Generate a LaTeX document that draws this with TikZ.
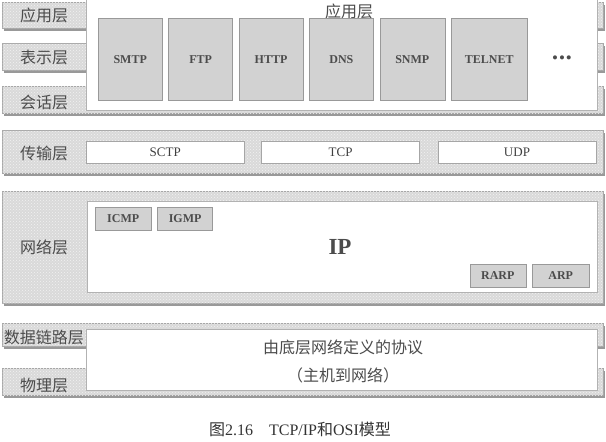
\documentclass[tikz,border=0pt]{standalone}
\usepackage{fontspec}
\setmainfont{Liberation Serif}
\newfontfamily\cjk{Noto Sans CJK SC}
\usetikzlibrary{
        patterns,
        positioning
    }
\tikzset{layer bar/.style={draw=gray!70,fill=gray!30,postaction={pattern=crosshatch dots,pattern color=gray!10}}}
\tikzset{bar shadow/.style={fill=gray!80}}
\tikzset{layer label/.style={font=\cjk\fontsize{16}{18}\selectfont,text=black!70}}
\tikzset{suite box/.style={draw=gray!60,fill=white,inner sep=0pt,anchor=north west}}
\tikzset{proto box/.style={draw=gray!80,fill=gray!35,inner sep=0pt,text=black!70,font=\bfseries\fontsize{12}{12}\selectfont}}
\tikzset{trans box/.style={draw=gray!70,fill=white,inner sep=0pt,minimum width=158pt,minimum height=22pt,text=black!75,font=\fontsize{13}{14}\selectfont}}

\begin{document}
\begin{tikzpicture}[x=1pt,y=-1pt]
    \useasboundingbox (0,0) rectangle (606,442);
    % OSI layers on the left
    \foreach \t/\b/\nm/\ly/\txt in {2/28/app/15/应用层,43/70/pres/57/表示层,86/113/sess/102/会话层,
            130/173/trans/153/传输层,191/303/net/247/网络层,323/346/link/337/数据链路层,368/395/phys/385/物理层}{
        \fill[bar shadow] (4,\t+3) rectangle (605,\b+3);
        \draw[layer bar] (2,\t) rectangle (603,\b);
        \node[layer label] (\nm) at (44,\ly) {\txt};
    }
    % application layer
    \node[suite box,minimum width=511pt,minimum height=111pt] (appbox) at (86,-1) {};
    \node[layer label] (apptitle) at (349,11) {应用层};
    \node[proto box,minimum width=64pt,minimum height=82pt,anchor=north west] (smtp) at (98,18) {SMTP};
    \node[proto box,minimum width=64pt,minimum height=82pt] (ftp) [right=6pt of smtp] {FTP};
    \node[proto box,minimum width=64pt,minimum height=82pt] (http) [right=6pt of ftp] {HTTP};
    \node[proto box,minimum width=64pt,minimum height=82pt] (dns) [right=6pt of http] {DNS};
    \node[proto box,minimum width=65pt,minimum height=82pt] (snmp) [right=6pt of dns] {SNMP};
    \node[proto box,minimum width=76pt,minimum height=82pt] (telnet) [right=6pt of snmp] {TELNET};
    \node[text=black!70,font=\fontsize{17}{17}\selectfont] (dots) at (562,60) {\textbullet\hspace{1pt}\textbullet\hspace{1pt}\textbullet};
    % transport layer
    \node[trans box,anchor=north west] (sctp) at (86,141) {SCTP};
    \node[trans box] (tcp) [right=17pt of sctp] {TCP};
    \node[trans box] (udp) [right=18pt of tcp] {UDP};
    % network layer
    \node[suite box,minimum width=510pt,minimum height=91pt] (ipbox) at (87,201) {};
    \node[text=black!70,font=\bfseries\fontsize{23}{24}\selectfont] (ip) at (340,247) {IP};
    \node[proto box,minimum width=56pt,minimum height=23pt,anchor=north west] (icmp) at (95,207) {ICMP};
    \node[proto box,minimum width=55pt,minimum height=23pt] (igmp) [right=6pt of icmp] {IGMP};
    \node[proto box,minimum width=57pt,minimum height=23pt,anchor=north west] (arp) at (532,264) {ARP};
    \node[proto box,minimum width=56pt,minimum height=23pt] (rarp) [left=6pt of arp] {RARP};
    % host to network
    \node[suite box,minimum width=511pt,minimum height=61pt] (hostbox) at (86,329) {};
    \node[layer label,align=center,font=\cjk\fontsize{16}{28}\selectfont] (hostnet) at (343,361) {由底层网络定义的协议\\（主机到网络）};
    % caption
    \node[text=black!80,font=\fontsize{16}{17}\selectfont] (caption) at (300,429) {{\cjk 图}2.16\hspace{1em}TCP/IP{\cjk 和}OSI{\cjk 模型}};
\end{tikzpicture}
\end{document}
